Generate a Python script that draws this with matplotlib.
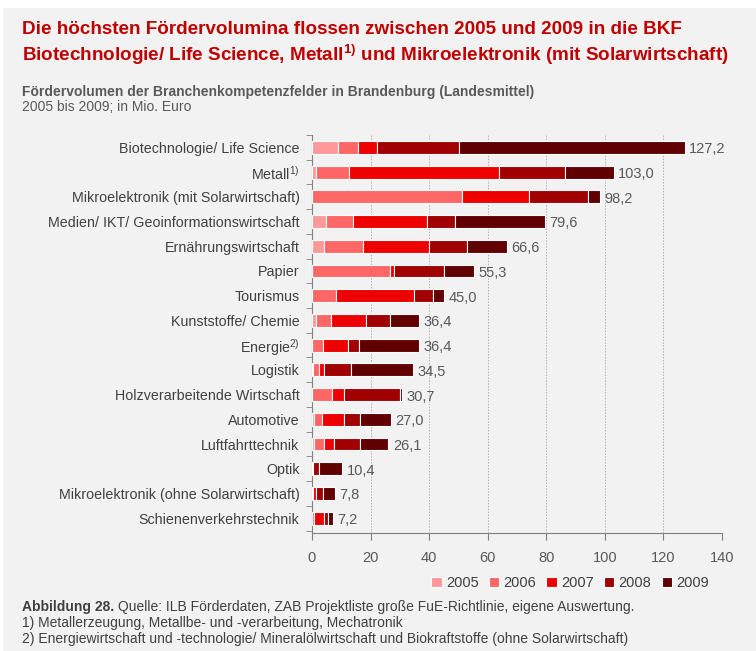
import numpy as np
import matplotlib.pyplot as plt
from matplotlib.patches import Rectangle

categories = [
    "Biotechnologie/ Life Science",
    "Metall$^{\\mathregular{1)}}$",
    "Mikroelektronik (mit Solarwirtschaft)",
    "Medien/ IKT/ Geoinformationswirtschaft",
    "Ernährungswirtschaft",
    "Papier",
    "Tourismus",
    "Kunststoffe/ Chemie",
    "Energie$^{\\mathregular{2)}}$",
    "Logistik",
    "Holzverarbeitende Wirtschaft",
    "Automotive",
    "Luftfahrttechnik",
    "Optik",
    "Mikroelektronik (ohne Solarwirtschaft)",
    "Schienenverkehrstechnik",
]
years = ["2005", "2006", "2007", "2008", "2009"]
v2005 = [8.9, 1.4, 0.0, 4.9, 4.1, 0.0, 0.0, 1.4, 0.0, 0.5, 0.0, 0.6, 0.6, 0.0, 0.0, 0.0]
v2006 = [6.7, 11.1, 51.3, 9.1, 13.3, 26.5, 8.3, 5.2, 3.8, 1.9, 6.8, 2.9, 3.6, 0.0, 0.5, 0.8]
v2007 = [6.6, 51.4, 22.9, 25.4, 22.6, 1.4, 26.6, 11.7, 8.5, 1.6, 4.0, 7.3, 3.3, 0.4, 1.0, 3.4]
v2008 = [28.0, 22.6, 19.9, 9.4, 12.9, 17.1, 6.4, 8.4, 3.6, 9.2, 19.1, 5.7, 9.0, 2.0, 2.3, 1.2]
v2009 = [77.0, 16.5, 4.1, 30.8, 13.7, 10.3, 3.7, 9.7, 20.5, 21.3, 0.8, 10.5, 9.6, 8.0, 4.0, 1.8]
totals = [127.2, 103.0, 98.2, 79.6, 66.6, 55.3, 45.0, 36.4, 36.4, 34.5, 30.7, 27.0, 26.1, 10.4, 7.8, 7.2]

colors = ["#FF9999", "#FF6666", "#EE0000", "#A00000", "#600000"]
series = [v2005, v2006, v2007, v2008, v2009]

plt.rcParams['font.family'] = ['Liberation Sans', 'DejaVu Sans']

fig = plt.figure(figsize=(7.56, 6.51), dpi=100, facecolor="white")
fig.patches.append(Rectangle((3 / 756, 0), 1, 1 - 8 / 651, transform=fig.transFigure,
                             facecolor="#F2F2F2", edgecolor="none", zorder=-10))

ax = fig.add_axes([312 / 756, 1 - 533 / 651, 410 / 756, 398 / 651])
ax.set_facecolor("#F2F2F2")

y = np.arange(len(categories))
left = np.zeros(len(categories))
for vals, col, yr in zip(series, colors, years):
    vals = np.array(vals)
    ax.barh(y, vals, left=left, height=0.52, color=col, edgecolor="white",
            linewidth=0.8, label=yr, zorder=3)
    left += vals

for yi, t in zip(y, totals):
    ax.text(t + 1.5, yi + 0.08, f"{t:.1f}".replace(".", ","), va="center", ha="left",
            fontsize=10.5, color="#595959")

ax.set_xlim(0, 140)
ax.set_ylim(15.6, -0.4)
ax.set_xticks(np.arange(0, 141, 20))
ax.xaxis.grid(True, linestyle=(0, (1.5, 1.5)), color="#B0B0B0", linewidth=0.7, zorder=0)
ax.set_yticks(y)
ax.set_yticklabels(categories, fontsize=10.3, color="#404040")
ax.set_yticks(np.arange(-0.5, 16, 1), minor=True)
ax.tick_params(axis="y", which="major", length=0, pad=9)
ax.tick_params(axis="y", which="minor", length=4, color="#808080")
ax.tick_params(axis="x", length=5, color="#808080", labelcolor="#595959", labelsize=10.5, pad=8)
for s in ["top", "right"]:
    ax.spines[s].set_visible(False)
for s in ["left", "bottom"]:
    ax.spines[s].set_color("#808080")

leg = ax.legend(loc="upper right", bbox_to_anchor=(1.0, -0.075), ncol=5, frameon=False,
                fontsize=10.5, handlelength=0.7, handleheight=0.7, handletextpad=0.3,
                columnspacing=0.7, labelcolor="#404040")

fig.text(22 / 756, 1 - 30 / 651, "Die höchsten Fördervolumina flossen zwischen 2005 und 2009 in die BKF",
         fontsize=13.6, fontweight="bold", color="#C00000", va="center")
fig.text(22 / 756, 1 - 55 / 651,
         "Biotechnologie/ Life Science, Metall$^{\\mathregular{1)}}$ und Mikroelektronik (mit Solarwirtschaft)",
         fontsize=13.6, fontweight="bold", color="#C00000", va="center")
fig.text(22 / 756, 1 - 92 / 651, "Fördervolumen der Branchenkompetenzfelder in Brandenburg (Landesmittel)",
         fontsize=10, fontweight="bold", color="#595959", va="center")
fig.text(22 / 756, 1 - 107 / 651, "2005 bis 2009; in Mio. Euro",
         fontsize=10, color="#595959", va="center")

t = fig.text(22 / 756, 1 - 607 / 651, "Abbildung 28.", fontsize=10, fontweight="bold",
             color="#404040", va="center")
fig.canvas.draw()
bb = t.get_window_extent()
fig.text(bb.x1 / 756 + 4 / 756, 1 - 607 / 651,
         "Quelle: ILB Förderdaten, ZAB Projektliste große FuE-Richtlinie, eigene Auswertung.",
         fontsize=10, color="#404040", va="center")
fig.text(22 / 756, 1 - 623 / 651, "1) Metallerzeugung, Metallbe- und -verarbeitung, Mechatronik",
         fontsize=10, color="#404040", va="center")
fig.text(22 / 756, 1 - 639 / 651,
         "2) Energiewirtschaft und -technologie/ Mineralölwirtschaft und Biokraftstoffe (ohne Solarwirtschaft)",
         fontsize=10, color="#404040", va="center")

fig.savefig("out.png", dpi=100, facecolor=fig.get_facecolor())
